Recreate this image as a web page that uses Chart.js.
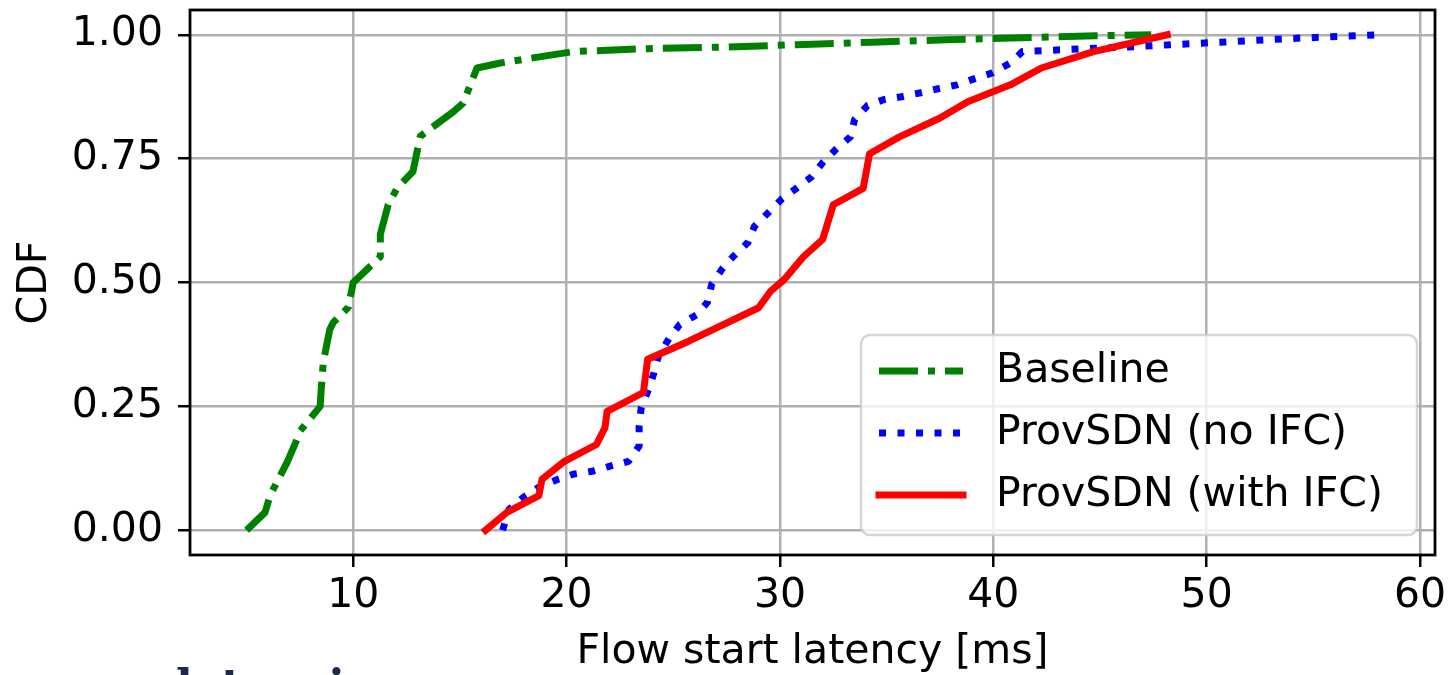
<!DOCTYPE html>
<html>
<head>
<meta charset="utf-8">
<script src="https://cdn.jsdelivr.net/npm/chart.js@4.4.1/dist/chart.umd.min.js"></script>
<style>
  html, body { margin: 0; padding: 0; background: #fff; overflow: hidden; }
  #wrap { position: relative; width: 1451px; height: 675px; overflow: hidden; }
  #below { position: absolute; left: 176px; top: 660px; font: bold 44px "DejaVu Serif"; color: #1b2a4a; white-space: nowrap; }
</style>
</head>
<body>
<div id="wrap">
  <canvas id="cdf" width="1451" height="675"></canvas>
  <div id="below">latencies</div>
</div>
<script>
// values (latency in ms, CDF)
const baselineLatency = [5.0, 5.87, 6.1, 6.9, 7.3, 7.5, 8.45, 8.5, 8.6, 8.9, 9.06, 9.77, 9.86, 10.0, 11.27, 11.27, 11.64, 12.05, 12.8, 13.14, 14.7, 15.15, 15.8, 16.9, 20.3, 23.8, 27.3, 30.8, 34.3, 37.8, 41.35, 44.8, 47.4];
const baselineCdf = [0.0, 0.036, 0.07, 0.137, 0.177, 0.2, 0.25, 0.284, 0.34, 0.405, 0.419, 0.45, 0.47, 0.5, 0.552, 0.597, 0.657, 0.69, 0.724, 0.795, 0.845, 0.862, 0.933, 0.943, 0.966, 0.972, 0.975, 0.98, 0.985, 0.99, 0.994, 0.998, 1.0];

const noIfcLatency = [17.0, 17.3, 18.0, 18.7, 19.6, 20.3, 21.2, 22.0, 22.9, 23.4, 23.4, 23.5, 23.8, 24.1, 24.3, 24.8, 25.3, 26.1, 26.6, 26.8, 27.3, 27.8, 28.5, 28.8, 29.5, 30.1, 30.8, 31.5, 32.0, 32.6, 33.3, 33.5, 34.1, 34.85, 35.7, 36.6, 37.4, 38.3, 39.1, 39.95, 40.8, 41.36, 42.3, 46.6, 50.2, 53.7, 58.1];
const noIfcCdf = [0.0, 0.042, 0.067, 0.087, 0.103, 0.113, 0.119, 0.129, 0.139, 0.17, 0.21, 0.248, 0.28, 0.318, 0.351, 0.387, 0.415, 0.435, 0.46, 0.496, 0.528, 0.552, 0.581, 0.613, 0.643, 0.669, 0.691, 0.714, 0.742, 0.768, 0.794, 0.829, 0.857, 0.869, 0.875, 0.883, 0.891, 0.899, 0.911, 0.923, 0.943, 0.966, 0.968, 0.976, 0.984, 0.992, 1.0];

const withIfcLatency = [16.2, 17.2, 18.7, 18.85, 19.9, 21.4, 21.8, 21.9, 23.6, 23.8, 25.7, 29.0, 29.55, 30.2, 31.1, 32.0, 32.5, 33.9, 34.2, 35.6, 37.5, 38.8, 40.8, 42.25, 44.7, 48.15];
const withIfcCdf = [0.0, 0.036, 0.07, 0.103, 0.139, 0.173, 0.207, 0.24, 0.278, 0.345, 0.381, 0.449, 0.482, 0.506, 0.552, 0.587, 0.657, 0.69, 0.76, 0.794, 0.832, 0.865, 0.899, 0.933, 0.966, 1.0];

const seriesNames = ['Baseline', 'ProvSDN (no IFC)', 'ProvSDN (with IFC)'];

const pts = (xs, ys) => xs.map((x, i) => ({x: x, y: ys[i]}));

Chart.defaults.font.family = "'DejaVu Sans'";
Chart.defaults.font.size = 41;
Chart.defaults.color = '#000';

// axes box drawn on top of the lines, like matplotlib spines
const frame = {
  id: 'frame',
  afterDatasetsDraw(chart) {
    const a = chart.chartArea, c = chart.ctx;
    c.save();
    c.strokeStyle = '#000';
    c.lineWidth = 2.8;
    c.strokeRect(a.left, a.top, a.right - a.left, a.bottom - a.top);
    c.restore();
  }
};

// legend box in the lower right, with the dashed handles
const boxLegend = {
  id: 'boxLegend',
  afterDraw(chart) {
    const c = chart.ctx;
    const x = 861, y = 335, w = 556, h = 200, r = 9;
    c.save();
    c.beginPath();
    c.roundRect(x, y, w, h, r);
    c.fillStyle = 'rgba(255,255,255,0.8)';
    c.fill();
    c.lineWidth = 2.5;
    c.strokeStyle = 'rgba(204,204,204,0.8)';
    c.stroke();
    const rows = [371, 433, 495];
    chart.data.datasets.forEach((ds, i) => {
      const yy = rows[i];
      c.beginPath();
      c.setLineDash(ds.borderDash || []);
      c.lineCap = ds.borderCapStyle;
      c.lineWidth = ds.borderWidth;
      c.strokeStyle = ds.borderColor;
      c.moveTo(879, yy);
      c.lineTo(963, yy);
      c.stroke();
      c.setLineDash([]);
      c.fillStyle = '#000';
      c.font = "41px 'DejaVu Sans'";
      c.textBaseline = 'middle';
      c.textAlign = 'left';
      c.fillText(ds.label, 996, yy);
    });
    c.restore();
  }
};

const noPad = s => { s.paddingTop = 0; s.paddingBottom = 0; s.paddingLeft = 0; s.paddingRight = 0; };

new Chart(document.getElementById('cdf'), {
  type: 'line',
  data: {
    datasets: [
      {
        label: seriesNames[0],
        data: pts(baselineLatency, baselineCdf),
        borderColor: '#008000',
        borderWidth: 7,
        borderDash: [39, 10, 7, 10],
        borderCapStyle: 'butt',
        borderJoinStyle: 'round',
        order: 2
      },
      {
        label: seriesNames[1],
        data: pts(noIfcLatency, noIfcCdf),
        borderColor: '#0000ff',
        borderWidth: 7,
        borderDash: [7, 11.5],
        borderCapStyle: 'butt',
        borderJoinStyle: 'round',
        order: 1
      },
      {
        label: seriesNames[2],
        data: pts(withIfcLatency, withIfcCdf),
        borderColor: '#ff0000',
        borderWidth: 7,
        borderCapStyle: 'square',
        borderJoinStyle: 'round',
        order: 0
      }
    ]
  },
  options: {
    responsive: false,
    animation: false,
    devicePixelRatio: 1,
    layout: { padding: { top: 10, right: 16, left: 0, bottom: 0 } },
    elements: { point: { radius: 0 }, line: { tension: 0, fill: false } },
    plugins: { legend: { display: false }, tooltip: { enabled: false } },
    scales: {
      x: {
        type: 'linear',
        min: 2.35,
        max: 60.7,
        afterFit: s => { s.height = 120; noPad(s); },
        ticks: { stepSize: 10, includeBounds: false, padding: 5, maxRotation: 0 },
        grid: { color: '#b0b0b0', lineWidth: 2.5, tickColor: '#000', tickWidth: 2.5, tickLength: 12 },
        border: { display: false },
        title: { display: true, text: 'Flow start latency [ms]', font: { size: 41, lineHeight: 1 }, padding: { top: 0, bottom: 2 } }
      },
      y: {
        min: -0.05,
        max: 1.05,
        afterFit: s => { s.width = 190; noPad(s); },
        ticks: { stepSize: 0.25, includeBounds: false, padding: 15, callback: v => v.toFixed(2) },
        grid: { color: '#b0b0b0', lineWidth: 2.5, tickColor: '#000', tickWidth: 2.5, tickLength: 12 },
        border: { display: false },
        title: { display: true, text: 'CDF', font: { size: 41, lineHeight: 1.2 }, padding: { top: 11, bottom: 0 } }
      }
    }
  },
  plugins: [frame, boxLegend]
});
</script>
</body>
</html>
